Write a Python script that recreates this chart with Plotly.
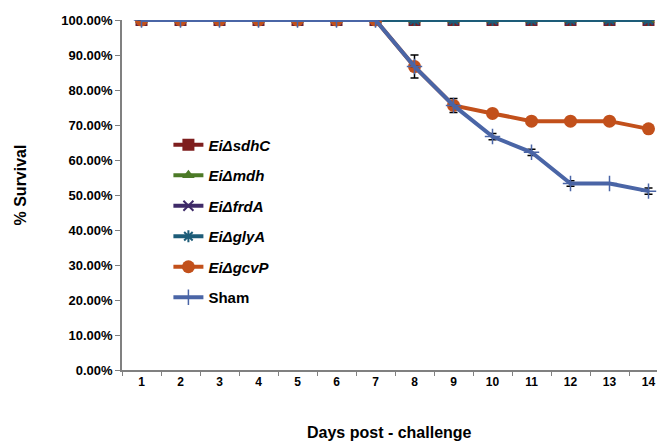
import plotly.graph_objects as go

days = [str(d) for d in range(1, 15)]

sdhC = [100] * 14
mdh = [100] * 14
frdA = [100] * 14
glyA = [100] * 14
gcvP = [100, 100, 100, 100, 100, 100, 100, 86.7, 75.6, 73.3, 71.1, 71.1, 71.1, 68.9]
sham = [100, 100, 100, 100, 100, 100, 100, 86.7, 75.6, 66.7, 62.2, 53.3, 53.3, 51.1]

gcvP_err = [0, 0, 0, 0, 0, 0, 0, 3.3, 2.0, 0, 0, 0, 0, 0]
sham_err = [0, 0, 0, 0, 0, 0, 0, 0, 0, 0.9, 0.9, 0.8, 0, 0.9]

y_ticks = list(range(0, 101, 10))
y_ticklabels = [f"{v:.2f}%" for v in y_ticks]

names = ["<b><i>EiΔsdhC</i></b>", "<b><i>EiΔmdh</i></b>", "<b><i>EiΔfrdA</i></b>",
         "<b><i>EiΔglyA</i></b>", "<b><i>EiΔgcvP</i></b>", "<b>Sham</b>"]

fig = go.Figure()

def add(y, name, color, symbol, size, err=None, mline=None):
    marker = dict(symbol=symbol, size=size, color=color)
    if mline:
        marker["line"] = dict(color=color, width=mline)
    kw = {}
    if err is not None:
        kw["error_y"] = dict(type="data", array=err, visible=True, color="black",
                             thickness=1.5, width=4)
    fig.add_trace(go.Scatter(x=days, y=y, name=name, mode="lines+markers",
                             line=dict(color=color, width=4), marker=marker,
                             legendgroup=name, **kw))

add(sdhC, names[0], "#7E1E1E", "square", 12)
add(mdh, names[1], "#4C7A27", "triangle-up", 11)
add(frdA, names[2], "#3E2A68", "x-thin", 10, mline=2)
add(glyA, names[3], "#1D5C78", "asterisk", 10, mline=2)
add(gcvP, names[4], "#C2501B", "circle", 13, err=gcvP_err)
add(sham, names[5], "#4A65A6", "cross-thin", 11, err=sham_err, mline=1.5)

fig.update_layout(
    width=665, height=443,
    margin=dict(l=114, r=5, t=12, b=81),
    paper_bgcolor="white", plot_bgcolor="white",
    font=dict(family="Liberation Sans, Arial, sans-serif", color="black"),
    showlegend=True,
    legend=dict(x=0.085, y=0.69, xanchor="left", yanchor="top",
                bgcolor="rgba(0,0,0,0)", font=dict(size=15, color="black"),
                tracegroupgap=8),
    xaxis=dict(type="category", range=[-0.5, 13.5], showline=True, linecolor="#808080",
               linewidth=1.5, ticks="outside", ticklen=4, tickcolor="#808080",
               tickson="boundaries", showgrid=False, zeroline=False, automargin=False,
               tickfont=dict(size=12, weight="bold")),
    yaxis=dict(range=[0, 100], tickvals=y_ticks, ticktext=y_ticklabels,
               showline=True, linecolor="#808080", linewidth=1.5, automargin=False,
               ticks="outside", ticklen=5, tickcolor="#808080", showgrid=False,
               zeroline=False, tickfont=dict(size=13, weight="bold")),
    annotations=[
        dict(text="<b>Days post - challenge</b>", xref="paper", yref="paper",
             x=0.49, y=-0.178, xanchor="center", yanchor="middle", showarrow=False,
             font=dict(size=16)),
        dict(text="<b>% Survival</b>", xref="paper", yref="paper",
             x=-0.185, y=0.53, xanchor="center", yanchor="middle", showarrow=False,
             textangle=-90, font=dict(size=16)),
    ],
)

fig.write_html("out.html")
